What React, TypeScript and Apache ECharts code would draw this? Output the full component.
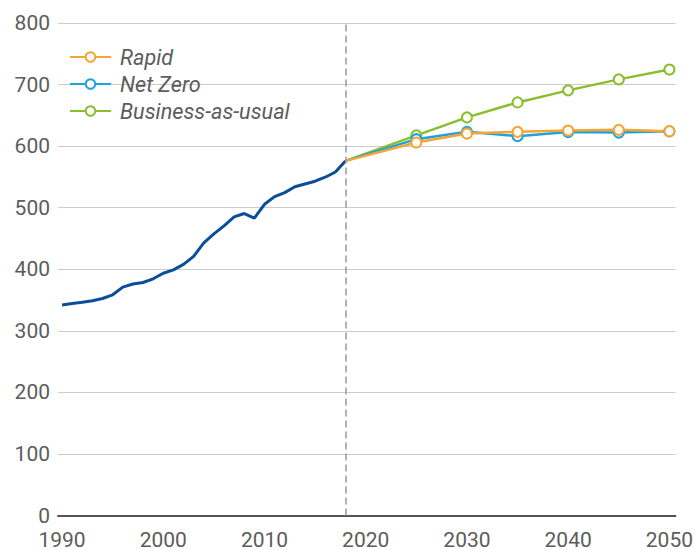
import React, { useEffect, useRef } from "react";
import * as echarts from "echarts";

const historyYears = [1990, 1991, 1992, 1993, 1994, 1995, 1996, 1997, 1998, 1999, 2000, 2001, 2002, 2003, 2004, 2005, 2006, 2007, 2008, 2009, 2010, 2011, 2012, 2013, 2014, 2015, 2016, 2017, 2018];
const historyValues = [342, 344.5, 346.5, 348.7, 352.5, 358.5, 371, 376, 378.5, 384.5, 393.5, 399, 408, 421, 443, 457.5, 470.5, 485, 490.5, 483, 505.5, 518, 524.5, 534, 538.5, 543, 549.5, 558, 576];

const scenarioYears = [2018, 2025, 2030, 2035, 2040, 2045, 2050];
const rapidValues = [576, 605.8, 620.4, 623.2, 625.3, 626.4, 624.3];
const netZeroValues = [576, 611.3, 623.2, 616.2, 623, 622, 624];
const bauValues = [576, 617.5, 646.7, 671, 690.6, 708.4, 724.5];

const xTickLabels = [1990, 2000, 2010, 2020, 2030, 2040, 2050];
const legendNames = ["Rapid", "Net Zero", "Business-as-usual"];

const colors = {
  rapid: "#F6A435",
  netZero: "#1CA3DD",
  bau: "#8BBE2F",
  history: "#0A4E9A",
};

function scenarioData(values: number[]) {
  return scenarioYears.map((y, i) =>
    i === 0 ? { value: [y, values[i]], symbol: "none" } : { value: [y, values[i]] }
  );
}

function scenarioSeries(name: string, values: number[], color: string) {
  return {
    name,
    type: "line",
    data: scenarioData(values),
    symbol: "emptyCircle",
    symbolSize: 10,
    showSymbol: true,
    lineStyle: { color, width: 2.5 },
    itemStyle: { color, borderWidth: 2 },
    emphasis: { disabled: true },
  };
}

export default function App() {
  const ref = useRef<HTMLDivElement>(null);
  useEffect(() => {
    document.body.style.margin = "0";
    if (!ref.current) return;
    const chart = echarts.init(ref.current, undefined, { renderer: "svg" });
    chart.setOption({
      animation: false,
      backgroundColor: "#ffffff",
      textStyle: { fontFamily: "Roboto" },
      grid: { left: 58, right: 19, top: 23, bottom: 34 },
      legend: {
        data: legendNames,
        orient: "vertical",
        left: 64,
        top: 41,
        itemWidth: 41,
        itemHeight: 12,
        itemGap: 5,
        textStyle: {
          fontFamily: "Roboto",
          fontStyle: "italic",
          fontSize: 21.7,
          color: "#5c5c5c",
          padding: [0, 0, 0, 4],
        },
        selectedMode: false,
      },
      xAxis: {
        type: "value",
        min: 1989.6,
        max: 2050.6,
        axisLine: { show: true, lineStyle: { color: "#555555", width: 2 } },
        axisTick: { show: false },
        splitLine: { show: false },
        axisLabel: {
          customValues: xTickLabels,
          formatter: (v: number) => String(v),
          fontSize: 21,
          color: "#5c5c5c",
          margin: 14,
          lineHeight: 20,
        },
      },
      yAxis: {
        type: "value",
        min: 0,
        max: 800,
        interval: 100,
        axisLine: { show: false },
        axisTick: { show: false },
        splitLine: { lineStyle: { color: "#cccccc", width: 1 } },
        axisLabel: { fontSize: 21, color: "#5c5c5c", margin: 8 },
      },
      series: [
        {
          name: "History",
          type: "line",
          data: historyYears.map((y, i) => [y, historyValues[i]]),
          symbol: "none",
          lineStyle: { color: colors.history, width: 3 },
          itemStyle: { color: colors.history },
          emphasis: { disabled: true },
          markLine: {
            silent: true,
            symbol: "none",
            label: { show: false },
            lineStyle: { color: "#999999", type: [7, 4], width: 1.5 },
            data: [{ xAxis: 2018 }],
          },
        },
        scenarioSeries("Business-as-usual", bauValues, colors.bau),
        scenarioSeries("Net Zero", netZeroValues, colors.netZero),
        scenarioSeries("Rapid", rapidValues, colors.rapid),
      ],
    });
    return () => chart.dispose();
  }, []);
  return <div ref={ref} style={{ width: 696, height: 550 }} />;
}
